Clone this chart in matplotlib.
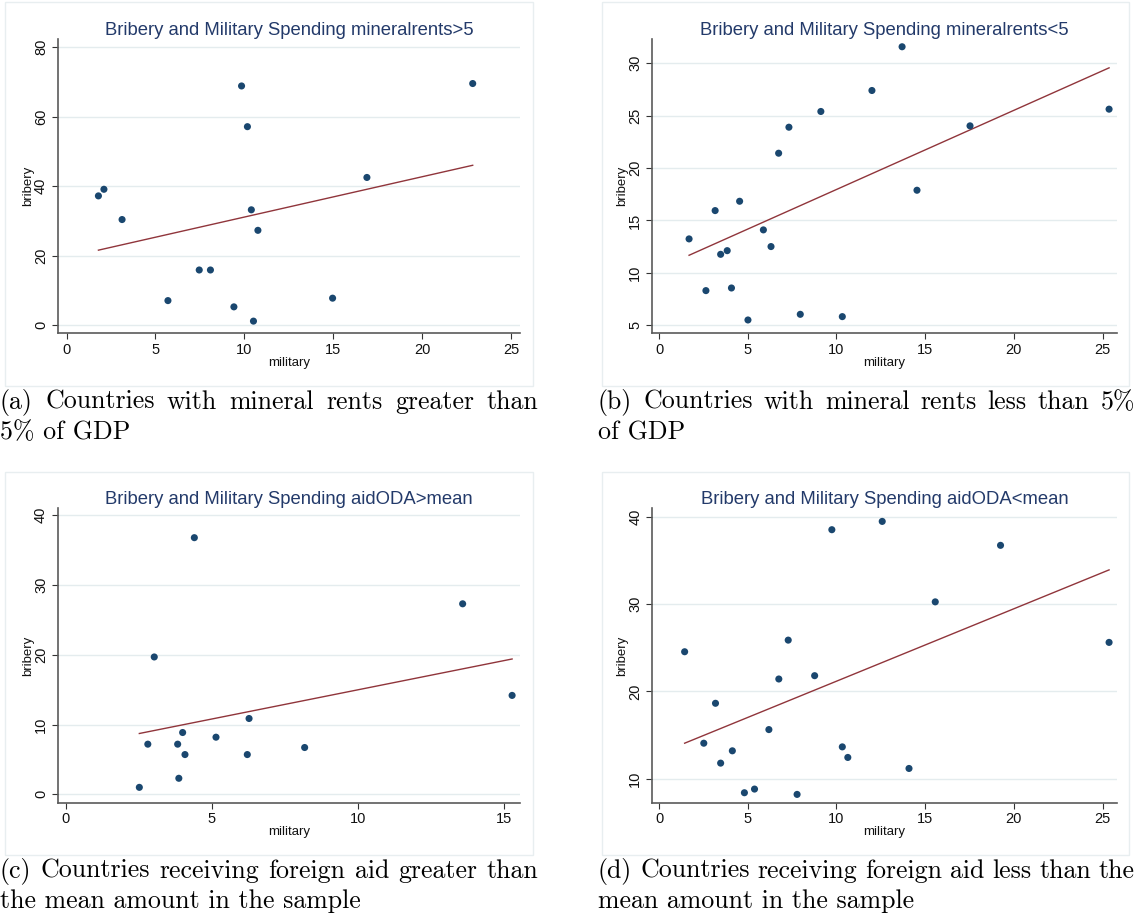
import matplotlib
matplotlib.use("Agg")
import matplotlib.pyplot as plt
from matplotlib.patches import Rectangle
import numpy as np

plt.rcParams["font.family"] = ["Liberation Sans", "DejaVu Sans"]

# ---- data ----
# (a) mineral rents > 5
mil_a = [1.79, 2.10, 3.12, 5.70, 7.46, 8.09, 9.41, 9.84, 10.17, 10.39, 10.51, 10.76, 14.96, 16.89, 22.84]
brib_a = [37.2, 39.1, 30.4, 7.1, 15.9, 15.9, 5.3, 68.8, 57.1, 33.2, 1.2, 27.3, 7.8, 42.5, 69.5]
fit_a = [21.6, 46.0]  # fitted bribery at min / max military

# (b) mineral rents < 5
mil_b = [1.69, 2.64, 3.16, 3.47, 3.84, 4.08, 4.54, 5.01, 5.88, 6.31, 6.74, 7.32, 7.96, 9.12,
         10.33, 12.00, 13.70, 14.54, 17.53, 25.37]
brib_b = [13.24, 8.31, 15.94, 11.77, 12.12, 8.56, 16.83, 5.51, 14.10, 12.51, 21.41, 23.89, 6.05, 25.39,
          5.83, 27.39, 31.56, 17.88, 24.02, 25.61]
fit_b = [11.68, 29.55]

# (c) aidODA > mean
mil_c = [2.52, 2.81, 3.03, 3.83, 3.87, 4.00, 4.08, 4.40, 5.14, 6.21, 6.27, 8.17, 13.57, 15.26]
brib_c = [1.0, 7.19, 19.69, 7.19, 2.30, 8.86, 5.70, 36.79, 8.19, 5.70, 10.87, 6.71, 27.31, 14.18]
fit_c = [8.72, 19.40]

# (d) aidODA < mean
mil_d = [1.44, 2.52, 3.18, 3.47, 4.13, 4.81, 5.38, 6.19, 6.75, 7.28, 7.78, 8.77, 9.74, 10.33,
         10.64, 12.58, 14.09, 15.57, 19.25, 25.37]
brib_d = [24.54, 14.07, 18.64, 11.79, 13.20, 8.40, 8.82, 15.63, 21.42, 25.87, 8.21, 21.80, 38.51, 13.65,
          12.44, 39.46, 11.18, 30.25, 36.72, 25.61]
fit_d = [14.07, 33.91]

titles = [
    "Bribery and Military Spending mineralrents>5",
    "Bribery and Military Spending mineralrents<5",
    "Bribery and Military Spending aidODA>mean",
    "Bribery and Military Spending aidODA<mean",
]
captions = [
    ["(a) Countries with mineral rents greater than", "5% of GDP"],
    ["(b) Countries with mineral rents less than 5%", "of GDP"],
    ["(c) Countries receiving foreign aid greater than", "the mean amount in the sample"],
    ["(d) Countries receiving foreign aid less than the", "mean amount in the sample"],
]
yticks_list = [np.arange(0, 81, 20), np.arange(5, 31, 5), np.arange(0, 41, 10), np.arange(10, 41, 10)]
xticks_list = [np.arange(0, 26, 5), np.arange(0, 26, 5), np.arange(0, 16, 5), np.arange(0, 26, 5)]
ylims = [(-2.3, 82.3), (4.24, 32.3), (-1.2, 41.0), (7.26, 40.96)]
xlims = [(-0.5, 25.5), (-0.4, 25.8), (-0.27, 15.53), (-0.4, 25.8)]

W, H = 1138, 919
fig = plt.figure(figsize=(W / 100, H / 100), dpi=100)

# pixel boxes: axes (left, right, top, bottom), frame (left, right, top, bottom)
axes_px = [(57.7, 520, 39, 333.3), (652, 1116.7, 39, 333.3),
           (57.7, 520, 508.3, 802.7), (652, 1116.7, 508.3, 802.7)]
frame_px = [(5, 533, 2, 386), (601.7, 1129.3, 2, 386),
            (5, 533, 471.7, 855), (601.7, 1129.3, 471.7, 855)]
# caption: left x, right x (justified first line), baselines of the two lines
cap_box = [(0, 538, 409, 439), (598, 1135, 409, 439),
           (0, 538, 878, 908), (598, 1135, 878, 908)]

navy = "#1a476f"
maroon = "#90353b"
gridc = "#e4ecee"
spinec = "#5a5a5a"
cap_font = dict(family="cmr10", fontsize=18.6, color="black", va="baseline", ha="left")

data = [(mil_a, brib_a, fit_a), (mil_b, brib_b, fit_b), (mil_c, brib_c, fit_c), (mil_d, brib_d, fit_d)]

renderer = fig.canvas.get_renderer()


def justified_line(text, x0, x1, y):
    # LaTeX-style justified line: spread the words over x0..x1
    words = text.split(" ")
    objs = [fig.text(0, 1 - y / H, w, **cap_font) for w in words]
    widths = [o.get_window_extent(renderer).width for o in objs]
    gap = (x1 - x0 - sum(widths)) / (len(words) - 1)
    x = x0
    for o, w in zip(objs, widths):
        o.set_x(x / W)
        x += w + gap


for i, (xs, ys, fit) in enumerate(data):
    fl, fr, ft, fb = frame_px[i]
    fig.patches.append(Rectangle((fl / W, 1 - fb / H), (fr - fl) / W, (fb - ft) / H,
                                 transform=fig.transFigure, fill=False,
                                 edgecolor="#e8eef0", linewidth=1.0))
    l, r, t, b = axes_px[i]
    ax = fig.add_axes([l / W, 1 - b / H, (r - l) / W, (b - t) / H])
    ax.plot([min(xs), max(xs)], fit, color=maroon, lw=1.0, zorder=2)
    ax.scatter(xs, ys, s=26, color=navy, edgecolors="none", zorder=3)

    ax.set_xlim(*xlims[i])
    ax.set_ylim(*ylims[i])
    ax.set_xticks(xticks_list[i])
    ax.set_yticks(yticks_list[i])
    ax.yaxis.grid(True, color=gridc, lw=1.0)
    ax.set_axisbelow(True)
    for s in ["top", "right"]:
        ax.spines[s].set_visible(False)
    for s in ["left", "bottom"]:
        ax.spines[s].set_color(spinec)
        ax.spines[s].set_linewidth(1.2)
    ax.tick_params(direction="out", length=4, width=0.8, color="#333333",
                   labelsize=10.5, labelcolor="#111111", pad=3)
    for lab in ax.get_yticklabels():
        lab.set_rotation(90)
        lab.set_va("center")
    ax.set_xlabel("military", fontsize=9.5, labelpad=0, color="#111111")
    ax.set_ylabel("bribery", fontsize=9.5, labelpad=0, color="#111111")
    ax.set_title(titles[i], fontsize=13.3, color="#233a6a", pad=3)

    cx0, cx1, y1, y2 = cap_box[i]
    justified_line(captions[i][0], cx0, cx1, y1)
    fig.text(cx0 / W, 1 - y2 / H, captions[i][1], **cap_font)

fig.savefig("out.png", dpi=100)
